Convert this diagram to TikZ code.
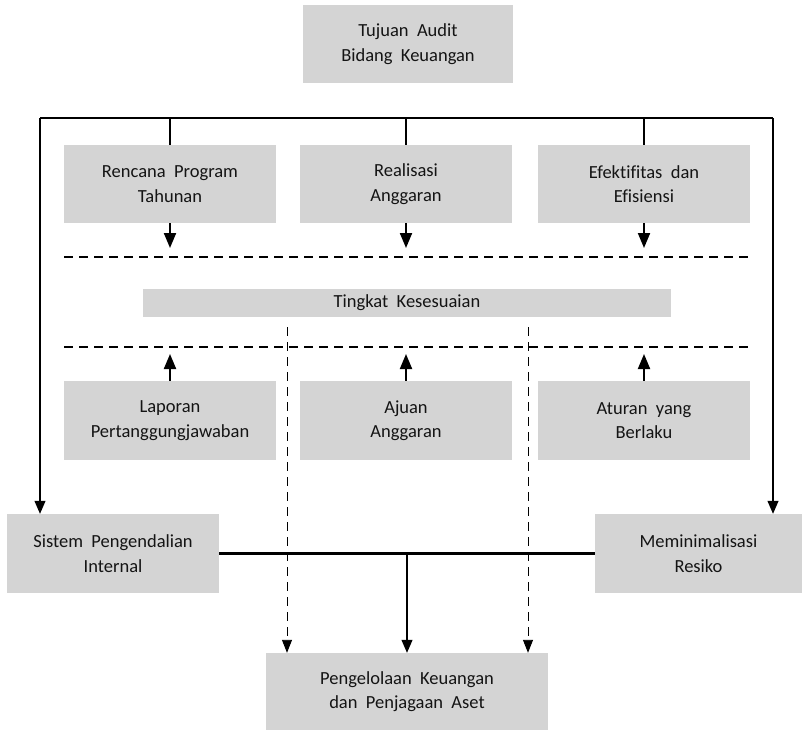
\documentclass[tikz,border=0pt]{standalone}
\usepackage{fontspec}
\setmainfont{Carlito}[Ligatures=NoCommon]
\usetikzlibrary{arrows.meta}
\definecolor{boxgray}{RGB}{212,212,212}
\definecolor{txt}{RGB}{20,20,20}
\begin{document}
\begin{tikzpicture}[x=1pt,y=-1pt,
  box/.style={fill=boxgray,draw=none,inner sep=0pt,align=center,text=txt,
    font=\fontsize{18.5}{24.5}\selectfont,minimum width=212pt,minimum height=78pt},
  thickarr/.style={line width=2pt,-{Triangle[length=15pt,width=12pt]}},
  thinarr/.style={line width=1.1pt,-{Triangle[length=13pt,width=11pt]}},
  dashline/.style={line width=2.2pt,dash pattern=on 9pt off 6pt},
  vdash/.style={line width=0.9pt,dash pattern=on 9pt off 6pt,-{Triangle[length=13pt,width=10pt]}}
]
\useasboundingbox (0,0) rectangle (802,731);
% nodes
\node[box,minimum width=210pt] (top) at (408,44) {Tujuan\ \ Audit\\Bidang\ \ Keuangan};
\node[box] (r1a) at (170,184) {Rencana\ \ Program\\Tahunan};
\node[box] (r1b) at (406,184) {Realisasi\\Anggaran};
\node[box] (r1c) at (644,184) {Efektifitas\ \ dan\\Efisiensi};
\node[box,minimum width=528pt,minimum height=28pt] (tk) at (407,303) {Tingkat\ \ Kesesuaian};
\node[box,minimum height=79pt] (r2a) at (170,420.5) {Laporan\\Pertanggungjawaban};
\node[box,minimum height=79pt] (r2b) at (406,420.5) {Ajuan\\Anggaran};
\node[box,minimum height=79pt] (r2c) at (644,420.5) {Aturan\ \ yang\\Berlaku};
\node[box,minimum height=79pt] (sis) at (113,553.5) {Sistem\ \ Pengendalian\\Internal};
\node[box,minimum width=207pt,minimum height=79pt] (mem) at (698.5,553.5) {Meminimalisasi\\Resiko};
\node[box,minimum width=282pt,minimum height=77pt] (pg) at (407,691.5) {Pengelolaan\ \ Keuangan\\dan\ \ Penjagaan\ \ Aset};
% frame coordinates
\coordinate (TL) at (40,118);
\coordinate (TR) at (773,118);
\coordinate (D1L) at (64,257);
\coordinate (D1R) at (750,257);
\coordinate (D2L) at (64,347);
\coordinate (D2R) at (750,347);
% outer frame
\draw[line width=1.1pt] (TL) -- (TR);
\draw[thinarr] (TL) -- (TL |- sis.north);
\draw[thinarr] (TR) -- (TR |- mem.north);
% ticks to row 1
\foreach \n in {r1a,r1b,r1c}{
  \draw[line width=2pt] (\n.north |- TL) -- (\n.north);
  \draw[thickarr,shorten >=9pt] (\n.south) -- (\n.south |- D1L);
}
\foreach \n in {r2a,r2b,r2c}{
  \draw[thickarr,shorten >=7pt] (\n.north) -- (\n.north |- D2L);
}
% dashed horizontal lines
\draw[dashline] (D1L) -- (D1R);
\draw[dashline] (D2L) -- (D2R);
% vertical dashed arrows
\coordinate (VL) at (287,317);
\coordinate (VR) at (528,317);
\draw[vdash,shorten <=10pt] (VL) -- (VL |- pg.north);
\draw[vdash,shorten <=10pt] (VR) -- (VR |- pg.north);
% bottom connection
\draw[line width=2.2pt] (sis.east) -- (mem.west);
\coordinate (M) at (pg.north |- sis.east);
\draw[thinarr] (M) -- (pg.north);
\end{tikzpicture}
\end{document}
